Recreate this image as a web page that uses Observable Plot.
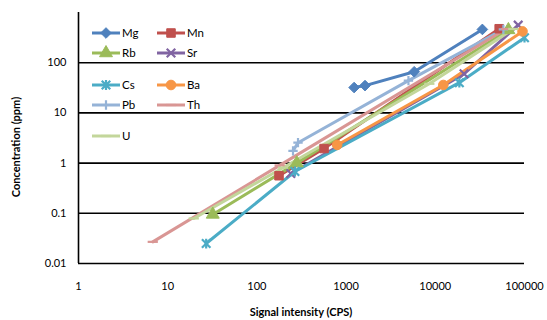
<!DOCTYPE html>
<html>
<head>
<meta charset="utf-8">
<script src="https://cdn.jsdelivr.net/npm/d3@7"></script>
<script src="https://cdn.jsdelivr.net/npm/@observablehq/plot@0.6"></script>
<style>
  html, body { margin: 0; padding: 0; background: #fff; }
  #chart { width: 547px; height: 320px; }
</style>
</head>
<body>
<div id="chart"></div>
<script>
// ---- data (signal intensity CPS, concentration ppm) ----
const Mg = [[1230, 32], [1630, 35], [5800, 66], [33700, 460]];
const Mn = [[177, 0.56], [566, 1.95], [52000, 475]];
const Rb = [[32, 0.095], [280, 1.0], [66000, 450]];
const Sr = [[240, 0.62], [21000, 60], [85000, 560]];
const Cs = [[27, 0.025], [267, 0.68], [18600, 40], [100000, 315]];
const Ba = [[794, 2.3], [12300, 36], [95000, 420]];
const Pb = [[254, 1.75], [289, 2.55], [5000, 44], [58000, 460]];
const Th = [[6.8, 0.027], [180, 0.9], [62000, 470]];
const U  = [[19.6, 0.079], [196, 0.81], [8570, 38], [75000, 470]];

const seriesNames = ["Mg", "Mn", "Rb", "Sr", "Cs", "Ba", "Pb", "Th", "U"];
const seriesData = [Mg, Mn, Rb, Sr, Cs, Ba, Pb, Th, U];
const seriesColors = ["#4F81BD", "#C0504D", "#9BBB59", "#8064A2", "#4BACC6", "#F79646", "#95B3D7", "#D99694", "#C3D69B"];

const xTicks = [1, 10, 100, 1000, 10000, 100000];
const yTicks = [0.01, 0.1, 1, 10, 100];
const xTickLabels = ["1", "10", "100", "1000", "10000", "100000"];
const yTickLabels = ["0.01", "0.1", "1", "10", "100"];

// ---- custom symbols ----
const dash = { draw(ctx, size) { const w = Math.sqrt(size) * 0.6; ctx.moveTo(-w, 0); ctx.lineTo(w, 0); } };
const star = { draw(ctx, size) {
  const r = Math.sqrt(size) * 0.5;
  ctx.moveTo(-r, -r); ctx.lineTo(r, r);
  ctx.moveTo(-r, r); ctx.lineTo(r, -r);
  ctx.moveTo(0, -r * 1.15); ctx.lineTo(0, r * 1.15);
} };
const plusS = { draw(ctx, size) { const r = Math.sqrt(size) * 0.55; ctx.moveTo(-r, 0); ctx.lineTo(r, 0); ctx.moveTo(0, -r); ctx.lineTo(0, r); } };
const timesS = { draw(ctx, size) { const r = Math.sqrt(size) * 0.5; ctx.moveTo(-r, -r); ctx.lineTo(r, r); ctx.moveTo(-r, r); ctx.lineTo(r, -r); } };

// marker spec per series: [symbol, filled?, r]
const markers = [
  [d3.symbolDiamond2, true, 4.8],
  [d3.symbolSquare, true, 4.8],
  [d3.symbolTriangle, true, 4.8],
  [timesS, false, 4.8],
  [star, false, 4.8],
  [d3.symbolCircle, true, 4.8],
  [plusS, false, 4.8],
  [dash, false, 4.8],
  [dash, false, 4.8]
];

const marks = [];
marks.push(Plot.ruleY(yTicks, { y: d => d, stroke: "#000", strokeWidth: 1.6 }));
marks.push(Plot.ruleX([1], { x: d => d, stroke: "#000", strokeWidth: 1.6 }));
seriesData.forEach((data, i) => {
  marks.push(Plot.line(data, { x: d => d[0], y: d => d[1], stroke: seriesColors[i], strokeWidth: 3, strokeLinejoin: "round", strokeLinecap: "round" }));
});
seriesData.forEach((data, i) => {
  const [sym, filled, r] = markers[i];
  marks.push(Plot.dot(data, {
    x: d => d[0], y: d => d[1], symbol: sym, r,
    fill: filled ? seriesColors[i] : "none",
    stroke: seriesColors[i], strokeWidth: filled ? 1 : 2.2
  }));
});
marks.push(Plot.axisX(xTicks, { tickSize: 0, tickPadding: 19, tickFormat: (d) => xTickLabels[xTicks.indexOf(d)], label: null, fontSize: 11 }));
marks.push(Plot.axisY(yTicks, { tickSize: 0, tickPadding: 12, tickFormat: (d) => yTickLabels[yTicks.indexOf(d)], label: null, fontSize: 11 }));

const chart = Plot.plot({
  width: 547, height: 320,
  marginLeft: 78, marginRight: 23, marginTop: 12, marginBottom: 57,
  style: { fontFamily: "Lato, 'Open Sans', sans-serif", fontSize: "11px", color: "#000", background: "#fff" },
  x: { type: "log", domain: [1, 100000] },
  y: { type: "log", domain: [0.01, 1000] },
  marks
});

const svg = d3.select(chart);
// axis titles
svg.append("text").attr("x", 301).attr("y", 316).attr("text-anchor", "middle")
  .attr("font-weight", "bold").attr("font-size", 11).attr("font-family", "Lato, sans-serif").attr("fill", "#000")
  .text("Signal intensity (CPS)");
svg.append("text").attr("transform", "translate(20,147) rotate(-90)").attr("text-anchor", "middle")
  .attr("font-weight", "bold").attr("font-size", 11).attr("font-family", "Lato, sans-serif").attr("fill", "#000")
  .text("Concentration (ppm)");

// legend (Excel-style, inside the plot area)
const legRows = [33, 53, 85, 105, 136];
const legCols = [92, 157];
const lg = svg.append("g");
seriesNames.forEach((name, i) => {
  const row = Math.floor(i / 2), col = i % 2;
  const x0 = legCols[col], y0 = legRows[row];
  lg.append("line").attr("x1", x0).attr("x2", x0 + 28).attr("y1", y0).attr("y2", y0)
    .attr("stroke", seriesColors[i]).attr("stroke-width", 3);
  const [sym, filled, r] = markers[i];
  lg.append("path").attr("transform", `translate(${x0 + 14},${y0})`)
    .attr("d", d3.symbol(sym, r * r * Math.PI)())
    .attr("fill", filled ? seriesColors[i] : "none")
    .attr("stroke", seriesColors[i]).attr("stroke-width", filled ? 1 : 2.2);
  lg.append("text").attr("x", x0 + 30).attr("y", y0 + 4).attr("font-size", 11.5)
    .attr("text-anchor", "start")
    .attr("font-family", "Lato, sans-serif").attr("fill", "#000").text(name);
});

document.getElementById("chart").appendChild(chart);
</script>
</body>
</html>
